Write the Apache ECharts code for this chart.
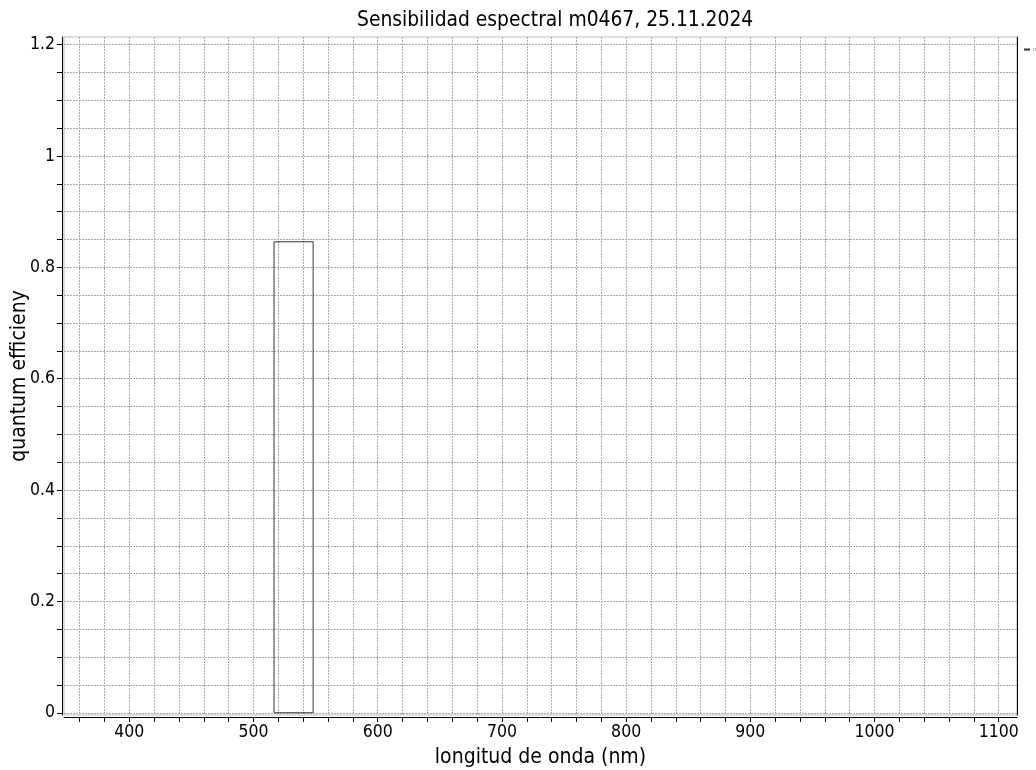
<!DOCTYPE html>
<html>
<head>
<meta charset="utf-8">
<script src="https://cdn.jsdelivr.net/npm/echarts@6/dist/echarts.min.js"></script>
<style>html,body{margin:0;padding:0;background:#fff}#c{width:1036px;height:770px}</style>
</head>
<body>
<div id="c"></div>
<script>
// Data
const seriesName = 'm0467';
const wavelengths = [516.5, 516.5, 548, 548, 516.5];
const efficiency = [0, 0.846, 0.846, 0, 0];
const xTickValues = [360,380,400,420,440,460,480,500,520,540,560,580,600,620,640,660,680,700,720,740,760,780,800,820,840,860,880,900,920,940,960,980,1000,1020,1040,1060,1080,1100];
const xLabelValues = [400,500,600,700,800,900,1000,1100];
const yTickValues = [0,0.05,0.1,0.15,0.2,0.25,0.3,0.35,0.4,0.45,0.5,0.55,0.6,0.65,0.7,0.75,0.8,0.85,0.9,0.95,1,1.05,1.1,1.15,1.2];
const yLabelValues = [0,0.2,0.4,0.6,0.8,1,1.2];
const xRange = [347.4, 1114.7];
const yRange = [-0.004, 1.2138];

const FONT = '"DejaVu Sans Condensed", "DejaVu Sans", sans-serif';
const chart = echarts.init(document.getElementById('c'), null, {renderer: 'canvas'});
const gridLine = {show: true, lineStyle: {color: '#aaa', type: [2, 1], width: 1}};
chart.setOption({
  animation: false,
  backgroundColor: '#fff',
  title: {
    text: 'Sensibilidad espectral m0467, 25.11.2024',
    left: 357, top: 10, padding: 0,
    textStyle: {fontFamily: FONT, fontSize: 20.8, fontWeight: 'normal', color: '#000'}
  },
  legend: {
    left: 1019, top: 42, itemWidth: 6, itemHeight: 2, itemGap: 2,
    icon: 'rect',
    textStyle: {fontFamily: FONT, fontSize: 5, color: '#555', padding: [0,0,0,-2]},
    data: [seriesName]
  },
  grid: {left: 64, right: 19, top: 37, bottom: 55, show: true, borderColor: '#bbb', borderWidth: 1,
    containLabel: false, outerBoundsMode: 'none'},
  xAxis: [{
    type: 'value', min: xRange[0], max: xRange[1], offset: 2,
    name: 'longitud de onda (nm)', nameLocation: 'middle', nameGap: 30, nameMoveOverlap: false,
    nameTextStyle: {fontFamily: FONT, fontSize: 21, color: '#000'},
    axisLine: {show: true, onZero: false, lineStyle: {color: '#000', width: 1}},
    axisTick: {show: true, customValues: xTickValues, length: 5, lineStyle: {color: '#000'}},
    axisLabel: {customValues: xLabelValues, fontFamily: FONT, fontSize: 17.5, color: '#000', margin: 6,
      formatter: v => String(v)},
    splitLine: gridLine
  }],
  yAxis: [{
    type: 'value', min: yRange[0], max: yRange[1], offset: 2,
    name: 'quantum efficieny', nameLocation: 'middle', nameGap: 32, nameMoveOverlap: false,
    nameTextStyle: {fontFamily: FONT, fontSize: 21, color: '#000'},
    axisLine: {show: true, onZero: false, lineStyle: {color: '#000', width: 1}},
    axisTick: {show: true, customValues: yTickValues, length: 5, lineStyle: {color: '#000'}},
    axisLabel: {customValues: yLabelValues, fontFamily: FONT, fontSize: 17.5, color: '#000', margin: 7,
      formatter: v => String(+v.toFixed(2))},
    splitLine: gridLine
  }, {
    type: 'value', min: yRange[0], max: yRange[1], position: 'right',
    axisLine: {show: true, onZero: false, lineStyle: {color: '#000', width: 1}},
    axisTick: {show: false}, axisLabel: {show: false}, splitLine: {show: false}
  }],
  series: [{
    name: seriesName,
    type: 'line',
    data: wavelengths.map((w, i) => [w, efficiency[i]]),
    symbol: 'none',
    lineStyle: {color: '#333', width: 1},
    itemStyle: {color: '#333'}
  }]
});
</script>
</body>
</html>
